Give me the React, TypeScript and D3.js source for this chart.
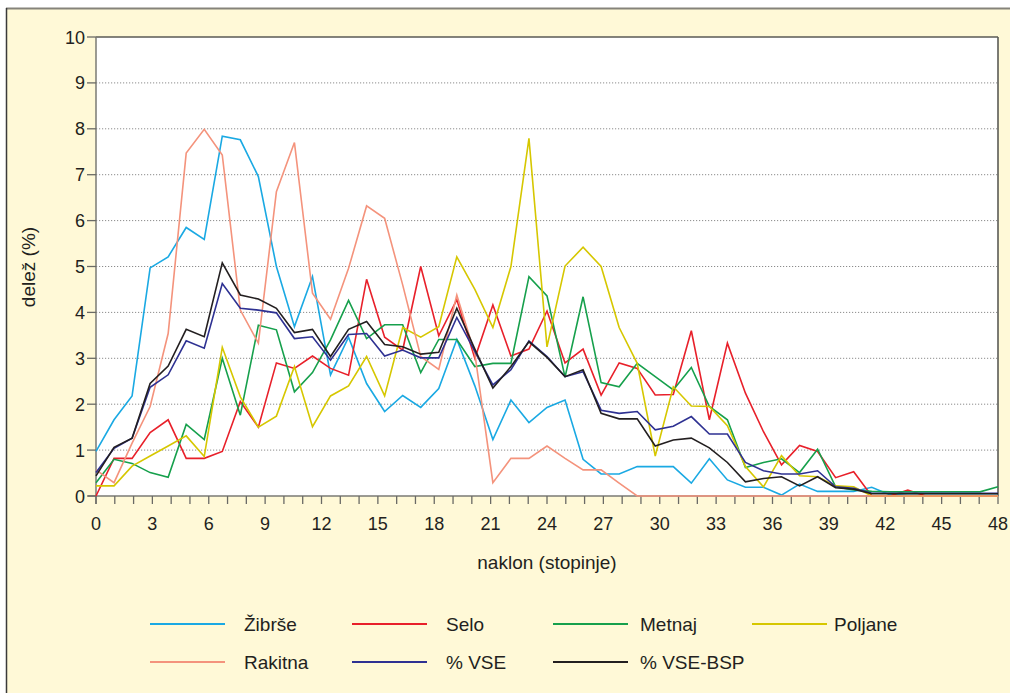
import React from "react";
import * as d3 from "d3";

// slope bins (51 data points plotted over the 0–48 axis)
const binCount = 51;
const xTickValues = d3.range(0, 49);
const xTickLabels = [0, 3, 6, 9, 12, 15, 18, 21, 24, 27, 30, 33, 36, 39, 42, 45, 48];
const yTickValues = [0, 1, 2, 3, 4, 5, 6, 7, 8, 9, 10];

const zibrse = [0.97, 1.66, 2.18, 4.97, 5.21, 5.85, 5.59, 7.84, 7.76, 6.96, 5.0, 3.69, 4.78, 2.64, 3.46, 2.45, 1.84, 2.19, 1.93, 2.34, 3.41, 2.4, 1.23, 2.09, 1.6, 1.93, 2.09, 0.8, 0.48, 0.48, 0.64, 0.64, 0.64, 0.28, 0.81, 0.35, 0.19, 0.19, 0.02, 0.26, 0.1, 0.1, 0.1, 0.19, 0.03, 0.05, 0.05, 0.05, 0.05, 0.05, 0.05];
const selo = [0, 0.82, 0.82, 1.38, 1.66, 0.82, 0.82, 0.97, 2.06, 1.5, 2.9, 2.78, 3.05, 2.78, 2.63, 4.72, 3.46, 3.18, 5.0, 3.49, 4.28, 3.0, 4.16, 3.05, 3.2, 4.03, 2.9, 3.2, 2.2, 2.9, 2.78, 2.2, 2.21, 3.6, 1.66, 3.33, 2.24, 1.4, 0.68, 1.1, 0.97, 0.4, 0.53, 0, 0, 0.13, 0, 0, 0, 0, 0];
const metnaj = [0.29, 0.8, 0.71, 0.51, 0.41, 1.56, 1.23, 3.0, 1.76, 3.72, 3.62, 2.27, 2.69, 3.4, 4.26, 3.43, 3.73, 3.73, 2.69, 3.41, 3.41, 2.82, 2.89, 2.89, 4.78, 4.36, 2.59, 4.34, 2.47, 2.38, 2.89, 2.6, 2.31, 2.8, 1.95, 1.66, 0.62, 0.73, 0.81, 0.51, 1.02, 0.2, 0.13, 0.1, 0.09, 0.09, 0.09, 0.09, 0.09, 0.09, 0.2];
const poljane = [0.22, 0.22, 0.65, 0.87, 1.09, 1.31, 0.86, 3.24, 2.16, 1.5, 1.74, 2.82, 1.51, 2.18, 2.4, 3.04, 2.18, 3.67, 3.46, 3.69, 5.21, 4.5, 3.67, 5.0, 7.79, 3.25, 5.01, 5.42, 5.0, 3.67, 2.89, 0.87, 2.38, 1.96, 1.95, 1.53, 0.64, 0.2, 0.88, 0.44, 0.42, 0.22, 0.2, 0, 0, 0, 0, 0, 0, 0, 0];
const rakitna = [0.57, 0.29, 1.15, 1.95, 3.54, 7.47, 7.99, 7.43, 4.05, 3.33, 6.63, 7.7, 4.42, 3.85, 4.96, 6.32, 6.05, 4.6, 3.04, 2.76, 4.38, 3.1, 0.29, 0.82, 0.82, 1.09, 0.82, 0.57, 0.57, 0.28, 0, 0, 0, 0, 0, 0, 0, 0, 0, 0, 0, 0, 0, 0, 0, 0, 0, 0, 0, 0, 0];
const vse = [0.51, 1.04, 1.26, 2.37, 2.64, 3.38, 3.22, 4.63, 4.09, 4.05, 3.99, 3.43, 3.47, 2.96, 3.52, 3.54, 3.05, 3.18, 3.01, 3.01, 3.89, 3.15, 2.42, 2.75, 3.38, 3.04, 2.6, 2.71, 1.87, 1.8, 1.84, 1.44, 1.52, 1.73, 1.35, 1.35, 0.73, 0.55, 0.48, 0.48, 0.55, 0.2, 0.17, 0.06, 0.06, 0.06, 0.06, 0.06, 0.06, 0.06, 0.06];
const vseBsp = [0.44, 1.06, 1.26, 2.45, 2.83, 3.63, 3.47, 5.08, 4.38, 4.29, 4.09, 3.56, 3.63, 3.04, 3.63, 3.8, 3.3, 3.25, 3.09, 3.13, 4.09, 3.2, 2.35, 2.82, 3.36, 3.02, 2.6, 2.75, 1.8, 1.68, 1.68, 1.09, 1.22, 1.26, 1.05, 0.73, 0.31, 0.38, 0.42, 0.22, 0.42, 0.18, 0.15, 0.05, 0.05, 0.05, 0.05, 0.05, 0.05, 0.05, 0.05];

const seriesNames = ["Žibrše", "Selo", "Metnaj", "Poljane", "Rakitna", "% VSE", "% VSE-BSP"];
const seriesValues = [zibrse, selo, metnaj, poljane, rakitna, vse, vseBsp];
const seriesColors = ["#1aa9e3", "#e8202a", "#16a04c", "#d6c700", "#f4937c", "#2e3192", "#231f20"];

const FONT = "'Liberation Sans', Arial, Helvetica, sans-serif";

export default function App() {
  const W = 1010;
  const H = 693;
  const left = 96, right = 998, top = 37, bottom = 496;

  const xAxis = d3.scaleLinear().domain([0, 48]).range([left, right]);
  const xPoint = d3.scaleLinear().domain([0, binCount - 1]).range([left, right]);
  const y = d3.scaleLinear().domain([0, 10]).range([bottom, top]);

  const line = d3
    .line<number>()
    .x((_, i) => xPoint(i))
    .y((d) => y(d));

  const legendLineX = [150, 352, 553, 752];
  const legendTextX = [244, 446, 640, 834];
  const legendRows = [624, 662];

  return (
    <svg
      width={W}
      height={H}
      style={{ position: "absolute", left: 0, top: 0 }}
      fontFamily={FONT}
    >
      <rect x={0} y={0} width={W} height={H} fill="#ffffff" />
      <rect x={6} y={8} width={W} height={H} fill="#fff9d7" />
      <line x1={6} x2={W} y1={8.5} y2={8.5} stroke="#85837a" strokeWidth={2} />
      <line x1={6.5} x2={6.5} y1={8} y2={H} stroke="#3a3a3a" strokeWidth={1.5} />

      {/* plot area */}
      <rect x={left} y={top} width={right - left} height={bottom - top} fill="#ffffff" />
      {yTickValues
        .filter((v) => v > 0 && v < 10)
        .map((v) => (
          <line
            key={"g" + v}
            x1={left}
            x2={right}
            y1={y(v)}
            y2={y(v)}
            stroke="#8c8c8c"
            strokeWidth={1}
            strokeDasharray="1.2,1.8"
          />
        ))}
      <line x1={left} x2={right} y1={top} y2={top} stroke="#5a5a55" strokeWidth={1.6} />
      <line x1={right} x2={right} y1={top} y2={bottom} stroke="#5a5a55" strokeWidth={1.6} />
      <line x1={left} x2={left} y1={top} y2={bottom + 8} stroke="#7a7a75" strokeWidth={1.5} />
      <line x1={left - 8} x2={right} y1={bottom} y2={bottom} stroke="#7a7a75" strokeWidth={1.5} />

      {/* y axis */}
      {yTickValues.map((v) => (
        <g key={"y" + v}>
          <line x1={left - 9} x2={left} y1={y(v)} y2={y(v)} stroke="#6a6a65" strokeWidth={1.3} />
          <text x={left - 11} y={y(v) + 6.5} textAnchor="end" fontSize={18} fill="#231f20">
            {v}
          </text>
        </g>
      ))}
      {/* x axis */}
      {xTickValues.map((v) => (
        <line key={"xt" + v} x1={xAxis(v)} x2={xAxis(v)} y1={bottom} y2={bottom + 8} stroke="#6a6a65" strokeWidth={1.3} />
      ))}
      {xTickLabels.map((v) => (
        <text key={"xl" + v} x={xAxis(v)} y={530} textAnchor="middle" fontSize={18} fill="#231f20">
          {v}
        </text>
      ))}

      {/* series */}
      {seriesValues.map((vals, si) => (
        <path
          key={"s" + si}
          d={line(vals) || ""}
          fill="none"
          stroke={seriesColors[si]}
          strokeWidth={1.6}
          strokeLinejoin="miter"
        />
      ))}

      {/* axis titles */}
      <text x={547} y={569} textAnchor="middle" fontSize={19} fill="#231f20">
        naklon (stopinje)
      </text>
      <text
        transform={`translate(35,267) rotate(-90)`}
        textAnchor="middle"
        fontSize={19}
        fill="#231f20"
      >
        delež (%)
      </text>

      {/* legend */}
      {seriesNames.map((name, i) => {
        const c = i % 4;
        const row = legendRows[Math.floor(i / 4)];
        return (
          <g key={"lg" + i}>
            <line x1={legendLineX[c]} x2={legendLineX[c] + 75} y1={row} y2={row} stroke={seriesColors[i]} strokeWidth={2} />
            <text x={legendTextX[c]} y={row + 7} fontSize={19} fill="#231f20">
              {name}
            </text>
          </g>
        );
      })}
    </svg>
  );
}
